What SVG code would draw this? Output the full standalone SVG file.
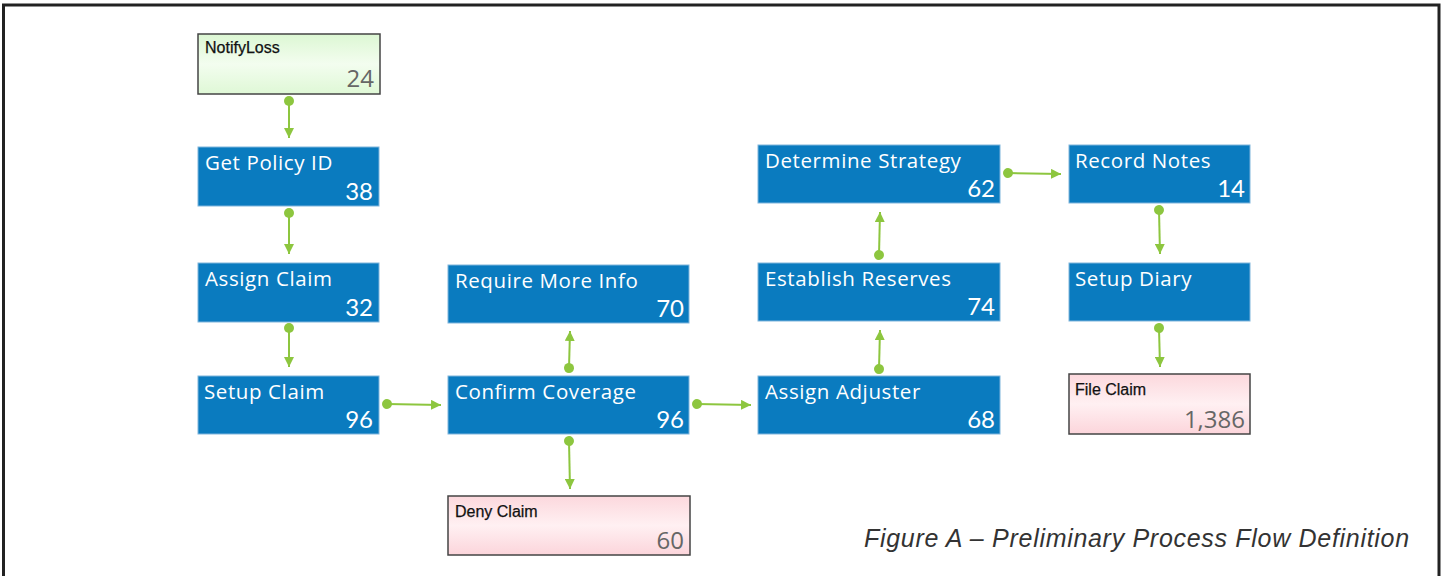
<svg xmlns="http://www.w3.org/2000/svg" width="1442" height="576" viewBox="0 0 1442 576">
<style>
.blue{fill:#0a7bbf;stroke:#7fb5dc;stroke-width:1}
.bt{font-family:"Open Sans","Lato",sans-serif;font-size:20.5px;letter-spacing:0.6px;fill:#fff}
.bn{font-family:"Lato","Open Sans",sans-serif;font-size:24px;fill:#fff;text-anchor:end}
.lt{font-family:"Liberation Sans",Arial,sans-serif;font-size:16px;fill:#111;stroke:#111;stroke-width:0.25}
.ln{font-family:"Open Sans","Lato",sans-serif;font-size:24px;fill:#666;text-anchor:end}
.c{stroke:#8dc63f;stroke-width:2;fill:none;marker-start:url(#dot);marker-end:url(#arr)}
.cap{font-family:"Liberation Sans",Arial,sans-serif;font-style:italic;font-size:25px;letter-spacing:0.7px;fill:#333}
</style>
<defs>
<marker id="dot" viewBox="0 0 10 10" refX="5" refY="5" markerWidth="10" markerHeight="10" markerUnits="userSpaceOnUse" orient="auto"><circle cx="5" cy="5" r="5" fill="#8dc63f"/></marker>
<marker id="arr" viewBox="0 0 10 10" refX="10" refY="5" markerWidth="10" markerHeight="10" markerUnits="userSpaceOnUse" orient="auto"><path d="M0,0 L10,5 L0,10 Z" fill="#8dc63f"/></marker>
<linearGradient id="gg" x1="0" y1="0" x2="0" y2="1"><stop offset="0" stop-color="#dcf7d3"/><stop offset="0.5" stop-color="#f3fdef"/><stop offset="1" stop-color="#dff8d6"/></linearGradient>
<linearGradient id="pg" x1="0" y1="0" x2="0" y2="1"><stop offset="0" stop-color="#fcd8dd"/><stop offset="0.5" stop-color="#fff0f2"/><stop offset="1" stop-color="#fcd5db"/></linearGradient>
</defs>
<rect width="1442" height="576" fill="#fff"/>
<path d="M3.5,576 V5 H1439 V576" fill="none" stroke="#222" stroke-width="3"/>
<g id="connectors">
<line class="c" x1="289" y1="101" x2="289" y2="138"/>
<line class="c" x1="289" y1="213" x2="289" y2="254"/>
<line class="c" x1="289" y1="328" x2="289" y2="367"/>
<line class="c" x1="387" y1="404" x2="441" y2="405"/>
<line class="c" x1="569" y1="368" x2="570" y2="331"/>
<line class="c" x1="569" y1="441" x2="570" y2="489"/>
<line class="c" x1="697" y1="404" x2="751" y2="405"/>
<line class="c" x1="879" y1="369" x2="880" y2="330"/>
<line class="c" x1="879" y1="255" x2="880" y2="212"/>
<line class="c" x1="1008" y1="173" x2="1061" y2="174"/>
<line class="c" x1="1159" y1="210" x2="1160" y2="254"/>
<line class="c" x1="1159" y1="328" x2="1160" y2="367"/>
</g>
<g id="notifyloss"><rect x="198" y="34" width="182" height="60" fill="url(#gg)" stroke="#444" stroke-width="1.5"/><text class="lt" x="205" y="53">NotifyLoss</text><text class="ln" x="374" y="87">24</text></g>
<g id="getpolicy"><rect class="blue" x="198" y="147" width="181" height="59"/><text class="bt" x="205" y="170">Get Policy ID</text><text class="bn" x="373" y="200">38</text></g>
<g id="assignclaim"><rect class="blue" x="198" y="263" width="181" height="59"/><text class="bt" x="205" y="286">Assign Claim</text><text class="bn" x="373" y="316">32</text></g>
<g id="setupclaim"><rect class="blue" x="198" y="376" width="181" height="58"/><text class="bt" x="204" y="399">Setup Claim</text><text class="bn" x="373" y="428">96</text></g>
<g id="requiremore"><rect class="blue" x="448" y="265" width="241" height="58"/><text class="bt" x="455" y="288">Require More Info</text><text class="bn" x="684" y="317">70</text></g>
<g id="confirmcoverage"><rect class="blue" x="448" y="376" width="241" height="58"/><text class="bt" x="455" y="399">Confirm Coverage</text><text class="bn" x="684" y="428">96</text></g>
<g id="denyclaim"><rect x="448" y="496" width="242" height="59" fill="url(#pg)" stroke="#444" stroke-width="1.5"/><text class="lt" x="455" y="517">Deny Claim</text><text class="ln" x="684" y="549">60</text></g>
<g id="determinestrategy"><rect class="blue" x="758" y="145" width="242" height="58"/><text class="bt" x="765" y="168">Determine Strategy</text><text class="bn" x="995" y="197">62</text></g>
<g id="establishreserves"><rect class="blue" x="758" y="263" width="242" height="58"/><text class="bt" x="765" y="286">Establish Reserves</text><text class="bn" x="995" y="315">74</text></g>
<g id="assignadjuster"><rect class="blue" x="758" y="376" width="242" height="58"/><text class="bt" x="765" y="399">Assign Adjuster</text><text class="bn" x="995" y="428">68</text></g>
<g id="recordnotes"><rect class="blue" x="1069" y="145" width="181" height="58"/><text class="bt" x="1075" y="168">Record Notes</text><text class="bn" x="1245" y="197">14</text></g>
<g id="setupdiary"><rect class="blue" x="1069" y="263" width="181" height="58"/><text class="bt" x="1075" y="286">Setup Diary</text></g>
<g id="fileclaim"><rect x="1069" y="374" width="181" height="60" fill="url(#pg)" stroke="#444" stroke-width="1.5"/><text class="lt" x="1075" y="395">File Claim</text><text class="ln" x="1245" y="428">1,386</text></g>
<text class="cap" x="864" y="547">Figure A – Preliminary Process Flow Definition</text>
</svg>
